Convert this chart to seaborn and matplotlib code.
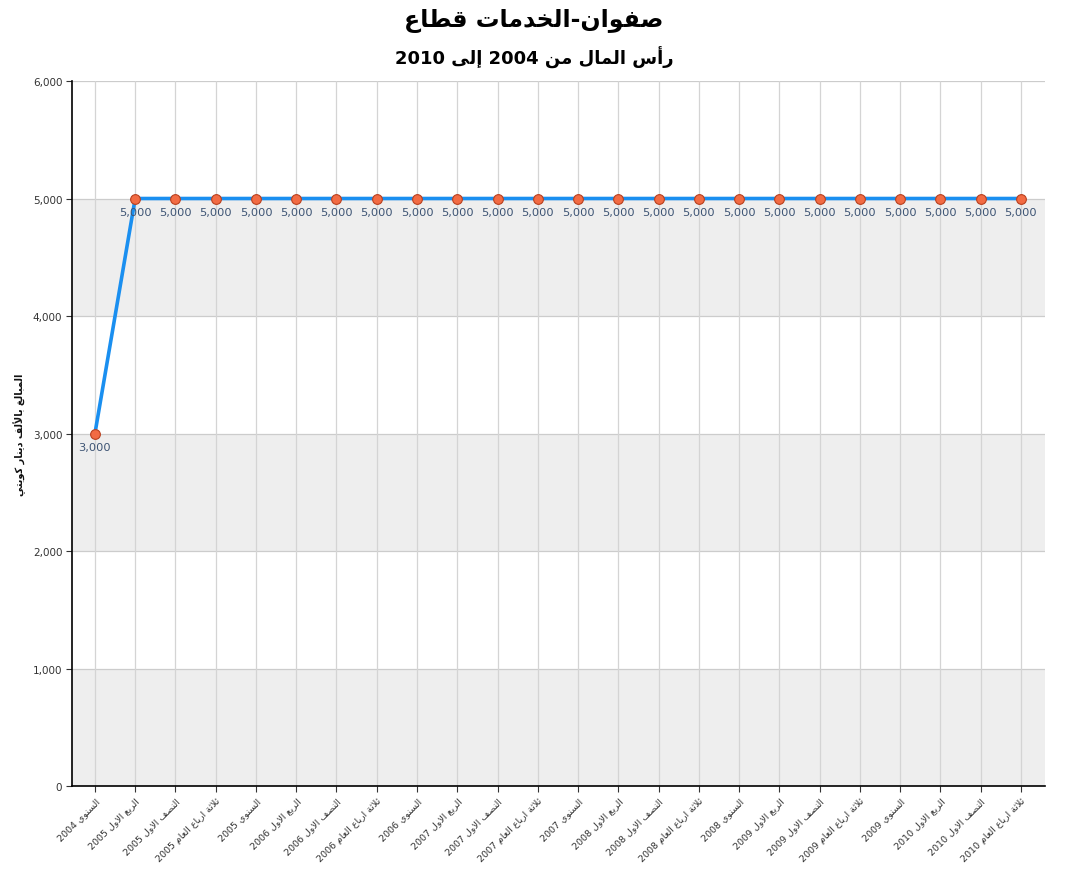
import re
import matplotlib
matplotlib.use('Agg')
import matplotlib.pyplot as plt
import seaborn as sns
import pandas as pd

# ==========================================
# البيانات
# ==========================================
title_txt = 'قطاع الخدمات-صفوان'
subtitle_txt = 'رأس المال من 2004 إلى 2010'
ylabel_txt = 'المبالغ بالألف دينار كويتي'

periods = [
    'السنوي 2004',
    'الربع الاول 2005', 'النصف الاول 2005', 'ثلاثة ارباع العام 2005', 'السنوي 2005',
    'الربع الاول 2006', 'النصف الاول 2006', 'ثلاثة ارباع العام 2006', 'السنوي 2006',
    'الربع الاول 2007', 'النصف الاول 2007', 'ثلاثة ارباع العام 2007', 'السنوي 2007',
    'الربع الاول 2008', 'النصف الاول 2008', 'ثلاثة ارباع العام 2008', 'السنوي 2008',
    'الربع الاول 2009', 'النصف الاول 2009', 'ثلاثة ارباع العام 2009', 'السنوي 2009',
    'الربع الاول 2010', 'النصف الاول 2010', 'ثلاثة ارباع العام 2010',
]
capital = [3000, 5000, 5000, 5000, 5000, 5000, 5000, 5000, 5000, 5000, 5000, 5000,
           5000, 5000, 5000, 5000, 5000, 5000, 5000, 5000, 5000, 5000, 5000, 5000]
y_ticks = [0, 1000, 2000, 3000, 4000, 5000, 6000]

# ==========================================
# تشكيل الحروف العربية (matplotlib لا يقوم بالتشكيل)
# ==========================================
# iso, final, initial, medial
FORMS = {
    'ء': (0xFE80, None, None, None),
    'آ': (0xFE81, 0xFE82, None, None),
    'أ': (0xFE83, 0xFE84, None, None),
    'ؤ': (0xFE85, 0xFE86, None, None),
    'إ': (0xFE87, 0xFE88, None, None),
    'ئ': (0xFE89, 0xFE8A, 0xFE8B, 0xFE8C),
    'ا': (0xFE8D, 0xFE8E, None, None),
    'ب': (0xFE8F, 0xFE90, 0xFE91, 0xFE92),
    'ة': (0xFE93, 0xFE94, None, None),
    'ت': (0xFE95, 0xFE96, 0xFE97, 0xFE98),
    'ث': (0xFE99, 0xFE9A, 0xFE9B, 0xFE9C),
    'ج': (0xFE9D, 0xFE9E, 0xFE9F, 0xFEA0),
    'ح': (0xFEA1, 0xFEA2, 0xFEA3, 0xFEA4),
    'خ': (0xFEA5, 0xFEA6, 0xFEA7, 0xFEA8),
    'د': (0xFEA9, 0xFEAA, None, None),
    'ذ': (0xFEAB, 0xFEAC, None, None),
    'ر': (0xFEAD, 0xFEAE, None, None),
    'ز': (0xFEAF, 0xFEB0, None, None),
    'س': (0xFEB1, 0xFEB2, 0xFEB3, 0xFEB4),
    'ش': (0xFEB5, 0xFEB6, 0xFEB7, 0xFEB8),
    'ص': (0xFEB9, 0xFEBA, 0xFEBB, 0xFEBC),
    'ض': (0xFEBD, 0xFEBE, 0xFEBF, 0xFEC0),
    'ط': (0xFEC1, 0xFEC2, 0xFEC3, 0xFEC4),
    'ظ': (0xFEC5, 0xFEC6, 0xFEC7, 0xFEC8),
    'ع': (0xFEC9, 0xFECA, 0xFECB, 0xFECC),
    'غ': (0xFECD, 0xFECE, 0xFECF, 0xFED0),
    'ف': (0xFED1, 0xFED2, 0xFED3, 0xFED4),
    'ق': (0xFED5, 0xFED6, 0xFED7, 0xFED8),
    'ك': (0xFED9, 0xFEDA, 0xFEDB, 0xFEDC),
    'ل': (0xFEDD, 0xFEDE, 0xFEDF, 0xFEE0),
    'م': (0xFEE1, 0xFEE2, 0xFEE3, 0xFEE4),
    'ن': (0xFEE5, 0xFEE6, 0xFEE7, 0xFEE8),
    'ه': (0xFEE9, 0xFEEA, 0xFEEB, 0xFEEC),
    'و': (0xFEED, 0xFEEE, None, None),
    'ى': (0xFEEF, 0xFEF0, None, None),
    'ي': (0xFEF1, 0xFEF2, 0xFEF3, 0xFEF4),
}
LAM_ALEF = {'آ': (0xFEF5, 0xFEF6), 'أ': (0xFEF7, 0xFEF8),
            'إ': (0xFEF9, 0xFEFA), 'ا': (0xFEFB, 0xFEFC)}


def joins_next(ch):
    return ch in FORMS and FORMS[ch][2] is not None


def shape(text):
    out = []
    i = 0
    n = len(text)
    prev_joins = False
    while i < n:
        ch = text[i]
        if ch not in FORMS:
            out.append(ch)
            prev_joins = False
            i += 1
            continue
        if ch == 'ل' and i + 1 < n and text[i + 1] in LAM_ALEF:
            iso, fin = LAM_ALEF[text[i + 1]]
            out.append(chr(fin if prev_joins else iso))
            prev_joins = False
            i += 2
            continue
        nxt = text[i + 1] if i + 1 < n else ''
        con_next = joins_next(ch) and nxt in FORMS
        iso, fin, ini, med = FORMS[ch]
        if prev_joins and con_next:
            code = med
        elif prev_joins:
            code = fin
        elif con_next:
            code = ini
        else:
            code = iso
        out.append(chr(code))
        prev_joins = joins_next(ch)
        i += 1
    # ترتيب العرض من اليمين إلى اليسار مع إبقاء الأرقام كما هي
    rev = ''.join(out)[::-1]
    res = []
    buf = ''
    for c in rev:
        if c.isdigit():
            buf += c
        else:
            if buf:
                res.append(buf[::-1])
                buf = ''
            res.append(c)
    if buf:
        res.append(buf[::-1])
    return ''.join(res)


def shape_words(text):
    # العنوان في الصورة الأصلية يظهر بترتيب كلمات من اليسار إلى اليمين
    return ''.join(shape(tok) for tok in re.split(r'([ \-])', text))


# ==========================================
# الرسم
# ==========================================
sns.set_theme(style='white')
plt.rcParams['font.family'] = ['DejaVu Sans']

df = pd.DataFrame({'pos': range(len(periods)), 'period': periods, 'capital': capital})

fig = plt.figure(figsize=(10.68, 8.78), dpi=100)
ax = fig.add_axes([0.0674, 0.1036, 0.9111, 0.803])

# أشرطة الخلفية المتناوبة
for k in range(0, len(y_ticks) - 1, 2):
    ax.axhspan(y_ticks[k], y_ticks[k + 1], color='#eeeeee', zorder=0, lw=0)

for yv in y_ticks[1:]:
    ax.axhline(yv, color='#cccccc', lw=0.9, zorder=1)
for xv in df['pos']:
    ax.axvline(xv, color='#d4d4d4', lw=0.9, zorder=1)

sns.lineplot(data=df, x='pos', y='capital', ax=ax, color='#1a8ff0', lw=2.6,
             marker='o', markersize=7, markerfacecolor='#f26b43',
             markeredgecolor='#b8401e', markeredgewidth=0.8, zorder=3)

for xv, yv in zip(df['pos'], df['capital']):
    ax.annotate(f'{yv:,}', (xv, yv), xytext=(0, -6), textcoords='offset points',
                ha='center', va='top', fontsize=8.2, color='#3d5474', zorder=4)

ax.set_xlim(-0.57, len(periods) - 1 + 0.6)
ax.set_ylim(0, 6000)
ax.set_yticks(y_ticks)
ax.set_yticklabels([f'{v:,}' for v in y_ticks], fontsize=7.5, color='#333333')
ax.set_xticks(df['pos'])
ax.set_xticklabels([shape(p) for p in periods], rotation=45, ha='right',
                   rotation_mode='anchor', fontsize=6.8, color='#333333')
ax.tick_params(axis='both', which='both', length=4, width=0.8, color='#333333',
               bottom=True, left=True, pad=3)

for side in ['top', 'right']:
    ax.spines[side].set_visible(False)
for side in ['left', 'bottom']:
    ax.spines[side].set_color('black')
    ax.spines[side].set_linewidth(1.2)

ax.set_xlabel('')
ax.set_ylabel(shape(ylabel_txt), fontsize=7, fontweight='bold', color='#111111')
ax.yaxis.set_label_coords(-0.047, 0.5)

fig.text(0.5, 0.976, shape_words(title_txt), ha='center', va='center', fontsize=17,
         fontweight='bold', color='black')
fig.text(0.5, 0.934, shape(subtitle_txt), ha='center', va='center', fontsize=13,
         fontweight='bold', color='black')

fig.savefig('out.png', dpi=100)
